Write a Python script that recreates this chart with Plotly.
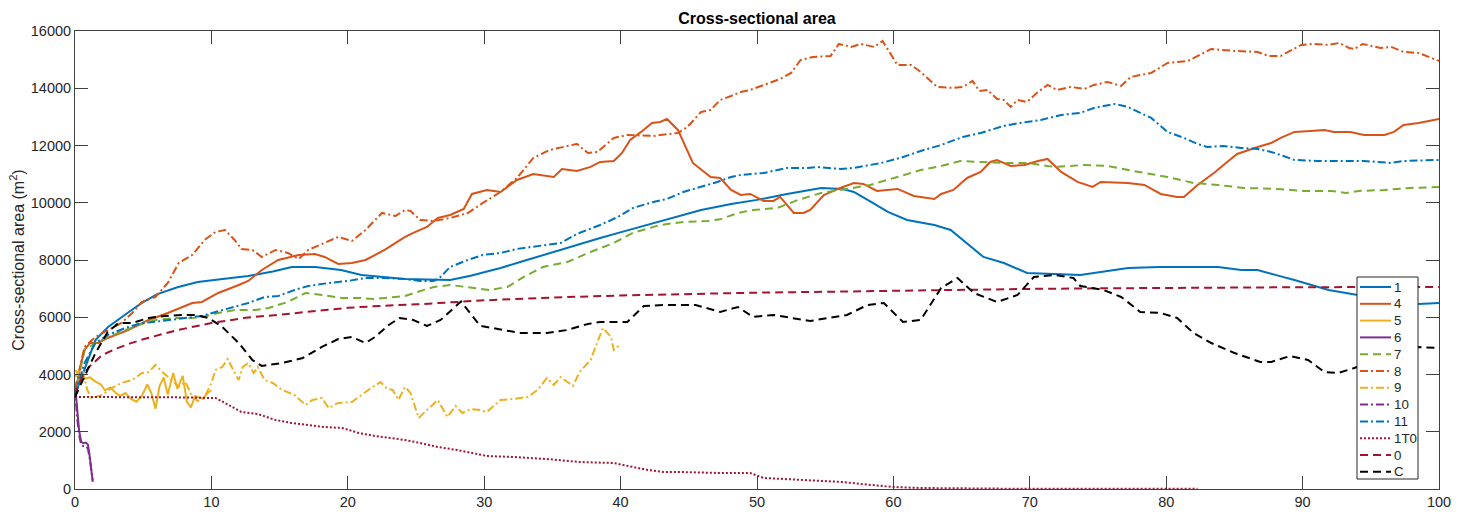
import plotly.graph_objects as go

# Cross-sectional area (m^2) along the channel for each case
x_1 = [0, 0.5, 1, 1.5, 2.4, 3.1, 4, 4.9, 6, 7.5, 9, 10.5, 12.7, 14.5, 15.9, 17.6, 19.5, 21, 22.5, 24.2,
       25.8, 27.5, 29, 31.2, 33, 34.8, 36.7, 38.5, 40.3, 42.2, 44, 45.9, 48.1, 50, 52.2, 54.7, 56.3, 57.1,
       58.3, 59.6, 61, 63, 64.2, 65.1, 66.6, 68.1, 69.8, 71.8, 73.7, 74.7, 77.2, 79.5, 81.6, 83.8, 85.5,
       86.7, 88, 89.4, 91.9, 93.5, 95, 96.5, 98.5, 100]
y_1 = [3300, 3950, 4550, 5200, 5650, 5900, 6200, 6500, 6800, 7050, 7230, 7320, 7440, 7600, 7757, 7757,
       7650, 7477, 7400, 7337, 7320, 7302, 7450, 7722, 7980, 8246, 8500, 8770, 9010, 9259, 9500, 9748,
       9958, 10100, 10307, 10517, 10482, 10377, 10050, 9678, 9399, 9224, 9050, 8700, 8106, 7896, 7547,
       7512, 7477, 7547, 7722, 7757, 7757, 7757, 7652, 7652, 7480, 7302, 6953, 6813, 6700, 6600, 6464, 6499]

x_4 = [0, 0.4, 0.7, 1.1, 1.7, 2.4, 3.9, 5.4, 6.8, 8.6, 9.3, 10.5, 12, 12.7, 13.7, 14.9, 16.4, 17.6, 18.3,
       19.3, 20.3, 21.3, 22.7, 24.2, 24.8, 25.8, 26.6, 27.5, 28.5, 29.1, 30.2, 31.2, 32.4, 33.6, 35.1, 35.7,
       36.8, 37.8, 38.5, 39.5, 40.1, 40.7, 41.5, 42.3, 42.9, 43.4, 44.2, 44.9, 45.3, 46.6, 47.3, 48.1, 48.8,
       49.5, 50.5, 51.2, 51.7, 52.7, 53.4, 53.9, 54.9, 56.1, 57.1, 57.8, 58.8, 60.3, 61.5, 63, 63.5, 64.4,
       65.4, 66.4, 67.1, 67.6, 68.6, 69.6, 70.6, 71.3, 72.3, 73.5, 74.6, 75.2, 77.2, 78.4, 79.6, 80.8, 81.3,
       82.3, 83.5, 84.2, 85.2, 86.7, 87.7, 88.4, 89.4, 90.6, 91.6, 92.3, 93.5, 94.5, 96, 96.7, 97.4, 98.5, 100]
y_4 = [3300, 4300, 4857, 5101, 5101, 5276, 5555, 5905, 6150, 6499, 6534, 6848, 7128, 7267, 7652, 8001,
       8176, 8211, 8106, 7861, 7896, 8001, 8351, 8805, 8945, 9154, 9469, 9573, 9783, 10307, 10447, 10377,
       10797, 11006, 10901, 11181, 11111, 11251, 11425, 11460, 11740, 12194, 12474, 12789, 12823, 12928,
       12544, 11845, 11390, 10901, 10866, 10447, 10272, 10307, 10062, 10062, 10202, 9643, 9643, 9748,
       10272, 10517, 10692, 10657, 10412, 10482, 10237, 10132, 10307, 10447, 10866, 11076, 11425, 11495,
       11286, 11320, 11460, 11530, 11076, 10727, 10552, 10727, 10692, 10622, 10307, 10202, 10202, 10622,
       11041, 11320, 11705, 11950, 12089, 12264, 12474, 12509, 12544, 12474, 12474, 12369, 12369, 12474,
       12718, 12789, 12928]

x_5 = [0, 0.3, 0.7, 1.1, 1.5, 1.9, 2.2, 2.6, 3.0, 3.3, 3.7, 4.1, 4.5, 4.9, 5.3, 5.6, 5.9, 6.2, 6.5, 6.8,
       7.2, 7.5, 7.9, 8.2, 8.5, 8.8, 9.1, 9.4, 9.7, 10.0]
y_5 = [4150, 4000, 3850, 3900, 3750, 3650, 3450, 3550, 3350, 3250, 3350, 3150, 3050, 3250, 3650, 3350,
       2800, 3600, 3900, 3300, 4050, 3500, 3950, 3050, 2850, 3250, 3200, 3150, 3350, 3450]

x_6 = [0, 0.15, 0.3, 0.45, 0.6, 0.8, 0.95, 1.05, 1.3]
y_6 = [3650, 2700, 2050, 1650, 1600, 1620, 1550, 1250, 250]

x_7 = [0, 0.7, 1.5, 2.4, 3.7, 4.9, 5.9, 7.3, 8.6, 9.3, 10.5, 11.7, 13.2, 14.2, 15.6, 16.9, 18.1, 19.6,
       20.8, 22, 23.5, 24.2, 25.1, 26.3, 27.5, 28.8, 30.4, 31.7, 32.9, 34.3, 36.1, 37.8, 39.5, 40.9, 42.9,
       44.6, 46.4, 47.3, 48.6, 49.7, 51.5, 53, 54.7, 56.6, 58.3, 60.3, 62, 63.5, 64.9, 66.4, 68.1, 69.8,
       71.8, 74, 75.7, 77.6, 80.1, 82, 83.8, 85.7, 88.2, 90.1, 92.1, 93.2, 94.1, 96, 97.9, 100]
y_7 = [3300, 4857, 5101, 5311, 5555, 5765, 5905, 5975, 5975, 6010, 6150, 6254, 6254, 6324, 6534, 6848,
       6778, 6674, 6674, 6639, 6708, 6743, 6883, 7058, 7128, 7058, 6953, 7058, 7407, 7757, 7931, 8281,
       8595, 8945, 9224, 9329, 9364, 9420, 9643, 9748, 9818, 10097, 10342, 10482, 10622, 10901, 11146,
       11286, 11460, 11425, 11390, 11390, 11251, 11320, 11286, 11111, 10901, 10692, 10622, 10517, 10482,
       10412, 10412, 10342, 10412, 10447, 10517, 10552]

x_8 = [0, 0.7, 1.5, 2.4, 3.4, 4.2, 4.9, 5.9, 6.8, 7.6, 8.6, 9.5, 10.3, 11, 11.7, 12.2, 13, 13.7, 14.7,
       15.6, 16.4, 17.1, 18.3, 19.3, 20.3, 21.3, 22.5, 23.5, 24.2, 24.6, 25.3, 26.3, 27.5, 28.8, 29.9,
       31.2, 32.4, 33.6, 34.8, 36.1, 36.8, 37.6, 38.3, 39.5, 40.5, 42.4, 44.2, 44.9, 45.9, 46.6, 47.3,
       48.1, 48.8, 49.5, 50.5, 51.7, 52.5, 53.2, 54.1, 55.4, 56, 56.9, 57.6, 58.6, 59.2, 60.3, 61.3, 62,
       63.2, 64.4, 65.1, 65.8, 66.3, 66.9, 67.6, 68.1, 68.6, 69.1, 69.8, 70.6, 71.3, 72, 73, 74, 74.7,
       75.7, 76.7, 77.4, 78.9, 80.1, 81.6, 83.3, 85, 86.7, 87.5, 88.4, 89.9, 90.8, 91.9, 92.7, 93.4, 93.8,
       94.4, 95.7, 96.5, 97.4, 98.5, 99.2, 100]
y_8 = [3500, 4962, 5311, 5555, 5800, 6150, 6534, 6708, 7197, 7896, 8176, 8700, 8980, 9049, 8700, 8386,
       8351, 8106, 8351, 8246, 8036, 8351, 8595, 8805, 8665, 9049, 9643, 9538, 9748, 9713, 9399, 9364,
       9469, 9643, 9993, 10377, 10866, 11565, 11845, 11985, 12054, 11740, 11775, 12264, 12369, 12334,
       12439, 12648, 13172, 13242, 13591, 13731, 13871, 13941, 14116, 14325, 14535, 14989, 15094, 15129,
       15548, 15443, 15548, 15443, 15653, 14814, 14814, 14570, 14046, 14011, 14046, 14255, 13906, 13941,
       13626, 13591, 13347, 13591, 13521, 13871, 14116, 13941, 14046, 13976, 14116, 14220, 14081, 14395,
       14535, 14884, 14954, 15373, 15303, 15268, 15129, 15129, 15513, 15548, 15513, 15583, 15408, 15373,
       15548, 15408, 15443, 15268, 15234, 15094, 14954]

x_9 = [0, 0.5, 0.9, 1.2, 2, 2.7, 3.4, 4.2, 4.9, 5.4, 5.9, 6.4, 7.1, 7.6, 8.1, 8.6, 9, 9.5, 10, 10.3,
       10.8, 11.2, 11.6, 12, 12.3, 12.7, 13.1, 13.4, 13.9, 14.5, 15.2, 16.1, 16.9, 17.4, 18.1, 18.6, 19.3,
       20.3, 21.5, 22.4, 22.9, 23.3, 23.7, 24.2, 24.6, 25.2, 25.8, 26.6, 27.3, 27.9, 28.4, 29, 29.7, 30.2,
       31.2, 32.1, 33.2, 33.9, 34.6, 35.1, 35.6, 36.1, 36.5, 37, 37.8, 38.7, 39.3, 39.5, 40]
y_9 = [3913, 4263, 3459, 3180, 3284, 3529, 3703, 3808, 4053, 4088, 4333, 4088, 3808, 3564, 3738, 3215,
       3075, 3215, 3703, 4158, 4263, 4542, 4158, 3808, 4263, 4402, 4053, 4263, 3808, 3703, 3459, 3284,
       2935, 3110, 3180, 2830, 3005, 3040, 3459, 3738, 3494, 3459, 3110, 3564, 3354, 2481, 2760, 3110,
       2516, 2900, 2655, 2795, 2760, 2690, 3110, 3145, 3215, 3459, 3878, 3634, 3913, 3738, 3599, 4088,
       4507, 5625, 5311, 4857, 5066]

x_10 = [0, 0.15, 0.3, 0.45, 0.6, 0.8, 0.95, 1.1, 1.3]
y_10 = [3550, 2500, 1900, 1550, 1500, 1500, 1400, 1000, 300]

x_11 = [0, 0.7, 1.5, 2.4, 3.7, 4.9, 6.4, 8.1, 9.3, 10.3, 11.7, 12.7, 13.9, 14.9, 16.1, 17.1, 18.6, 20,
        21.3, 22.5, 24.2, 25.3, 26.3, 26.8, 27.5, 28.8, 29.9, 31.2, 32.4, 34.1, 35.6, 36.8, 38.5, 39.8,
        40.9, 42.4, 43.4, 44.6, 45.9, 47.1, 48.1, 48.8, 50.5, 52.2, 53.7, 54.4, 56.1, 57.1, 59.1, 60.5,
        62, 63.5, 65.1, 66.4, 68.1, 69.3, 70.8, 72.3, 73.7, 74.7, 76.2, 77.2, 78.1, 78.9, 80.1, 81.3,
        82.3, 83, 84.2, 85.5, 86.7, 87.7, 88.6, 89.4, 91.1, 92.8, 94.5, 96.5, 97.4, 100]
y_11 = [3300, 4402, 5101, 5381, 5625, 5800, 5870, 5975, 6045, 6185, 6359, 6499, 6708, 6743, 6953, 7093,
        7197, 7267, 7372, 7372, 7337, 7267, 7267, 7407, 7757, 8001, 8176, 8246, 8386, 8490, 8595, 8910,
        9224, 9503, 9818, 10028, 10132, 10377, 10552, 10727, 10901, 10971, 11041, 11216, 11216, 11251,
        11181, 11216, 11390, 11565, 11810, 12019, 12299, 12439, 12683, 12789, 12893, 13068, 13137, 13312,
        13452, 13347, 13137, 12963, 12474, 12264, 12054, 11950, 11985, 11915, 11880, 11775, 11635, 11495,
        11460, 11460, 11460, 11390, 11460, 11495]

x_1t0 = [0, 2, 4, 6, 8, 9.8, 10.3, 11, 12.2, 13.4, 14.7, 15.9, 17.1, 18.3, 19.6, 20.8, 22, 23.3, 24.2,
         25.3, 26.6, 28, 29.2, 30.2, 32.1, 34.6, 37, 39.5, 40.2, 42, 43.1, 44.4, 47.3, 49.5, 50.5, 53.4,
         56.3, 57.6, 60, 62, 65, 70, 75, 82.3]
y_1t0 = [3215, 3215, 3215, 3215, 3200, 3180, 3180, 3005, 2690, 2620, 2411, 2306, 2236, 2166, 2131, 1957,
         1852, 1782, 1712, 1607, 1468, 1363, 1258, 1153, 1118, 1048, 943, 908, 839, 664, 594, 594, 559,
         559, 384, 314, 245, 175, 70, 35, 15, 5, 5, 5]

x_0 = [0, 0.5, 1, 2, 3, 4, 5, 6, 7.5, 10, 12.5, 15, 17.5, 20, 22.5, 25, 30, 35, 40, 45, 50, 55, 60, 65,
       70, 75, 80, 85, 90, 95, 100]
y_0 = [3300, 3900, 4250, 4680, 4900, 5080, 5230, 5360, 5550, 5800, 5980, 6090, 6200, 6330, 6400, 6450,
       6590, 6690, 6760, 6820, 6860, 6890, 6930, 6960, 6990, 7010, 7030, 7040, 7050, 7055, 7060]

x_c = [0, 0.7, 1.5, 2.4, 3.2, 4.2, 5.4, 6.6, 7.8, 8.8, 9.8, 10.8, 12, 13, 13.7, 15.2, 16.7, 18.1, 19.3,
       20.3, 21.3, 22, 23, 23.8, 24.8, 25.8, 26.8, 28.3, 29.7, 31, 32.6, 34.6, 36.1, 37.6, 38.5, 40.5,
       41.7, 43.1, 44.4, 45.5, 47.3, 48.6, 49.7, 51.2, 53.9, 56.6, 58.1, 59.3, 60.7, 62, 63.5, 64.7, 65.9,
       67.6, 69.1, 70.3, 71.8, 73.2, 73.7, 75.4, 76.7, 78.1, 79.6, 80.8, 82, 83.3, 85, 86.9, 87.7, 89.1,
       90.4, 91.6, 92.6, 93.8, 95.2, 96.8, 98.5, 100]
y_c = [3215, 3913, 4752, 5485, 5800, 5800, 5975, 6045, 6080, 6080, 5975, 5660, 5101, 4507, 4298, 4402,
       4577, 4962, 5241, 5311, 5101, 5311, 5730, 5975, 5905, 5695, 5905, 6550, 5700, 5590, 5450, 5450,
       5555, 5765, 5835, 5835, 6394, 6429, 6429, 6430, 6185, 6359, 6010, 6080, 5870, 6080, 6429, 6499,
       5835, 5905, 7023, 7372, 6848, 6534, 6778, 7407, 7477, 7372, 7093, 6953, 6708, 6185, 6150, 5975,
       5450, 5101, 4752, 4437, 4437, 4647, 4507, 4088, 4053, 4228, 4500, 4800, 4961, 4926]

x_ticks = list(range(0, 101, 10))
y_ticks = list(range(0, 16001, 2000))

BLUE, ORANGE, YELLOW, PURPLE, GREEN, WINE = "#0072BD", "#D95319", "#EDB120", "#7E2F8E", "#77AC30", "#A2142F"
SOLID = "solid"
DASH = "8px,5px"
DASHDOT = "8px,3px,2px,3px"
DOT = "2px,2px"

series = [
    ("1", x_1, y_1, BLUE, SOLID),
    ("4", x_4, y_4, ORANGE, SOLID),
    ("5", x_5, y_5, YELLOW, SOLID),
    ("6", x_6, y_6, PURPLE, SOLID),
    ("7", x_7, y_7, GREEN, DASH),
    ("8", x_8, y_8, ORANGE, DASHDOT),
    ("9", x_9, y_9, YELLOW, DASHDOT),
    ("10", x_10, y_10, PURPLE, DASHDOT),
    ("11", x_11, y_11, BLUE, DASHDOT),
    ("1T0", x_1t0, y_1t0, WINE, DOT),
    ("0", x_0, y_0, WINE, DASH),
    ("C", x_c, y_c, "#000000", DASH),
]

W, H = 1463, 512
ML, MR, MT, MB = 75, 24, 31, 23
PW, PH = W - ML - MR, H - MT - MB
FONT = "Liberation Sans, Arial, sans-serif"
INK = "#262626"
AXIS = "#404040"

fig = go.Figure()
for name, xs, ys, color, dash in series:
    fig.add_trace(go.Scatter(x=xs, y=ys, mode="lines", name=name, showlegend=False,
                             line=dict(color=color, width=2, dash=dash)))


def px_x(p):
    return (p - ML) / PW


def px_y(p):
    return (H - MB - p) / PH


# legend box drawn over the plot area, lower right corner
LEG_L, LEG_R, LEG_T, LEG_B = 1357, 1418, 277, 479
ROW0, ROW_H = 287, 16.8
shapes = [dict(type="rect", xref="paper", yref="paper", layer="above",
               x0=px_x(LEG_L), x1=px_x(LEG_R), y0=px_y(LEG_B), y1=px_y(LEG_T),
               fillcolor="white", line=dict(color=INK, width=1))]
annotations = []
for i, (name, _, _, color, dash) in enumerate(series):
    yy = px_y(ROW0 + i * ROW_H)
    shapes.append(dict(type="line", xref="paper", yref="paper", layer="above",
                       x0=px_x(1360), x1=px_x(1391), y0=yy, y1=yy,
                       line=dict(color=color, width=2, dash=dash)))
    annotations.append(dict(text=name, xref="paper", yref="paper", x=px_x(1392), y=yy,
                            xanchor="left", yanchor="middle", showarrow=False,
                            font=dict(family=FONT, size=13.3, color=INK)))

axis_common = dict(showline=True, linecolor=AXIS, linewidth=1, mirror="ticks",
                   ticks="inside", ticklen=13, tickcolor=AXIS, tickwidth=1,
                   showgrid=False, zeroline=False, automargin=False,
                   tickfont=dict(family=FONT, size=14.5, color=INK))

fig.update_layout(
    width=W, height=H,
    margin=dict(l=ML, r=MR, t=MT, b=MB),
    paper_bgcolor="white", plot_bgcolor="white",
    title=dict(text="Cross-sectional area", x=0.5, xref="paper", y=1 - 18 / H, yanchor="middle",
               font=dict(family=FONT, size=16, color="#000000", weight="bold")),
    xaxis=dict(range=[0, 100], tickvals=x_ticks, ticktext=[str(v) for v in x_ticks], **axis_common),
    yaxis=dict(range=[0, 16000], tickvals=y_ticks, ticktext=[str(v) for v in y_ticks],
               title=dict(text="Cross-sectional area (m<sup>2</sup>)", standoff=2,
                          font=dict(family=FONT, size=16, color=INK)),
               **axis_common),
    shapes=shapes,
    annotations=annotations,
    showlegend=False,
)

fig.write_html("out.html")
